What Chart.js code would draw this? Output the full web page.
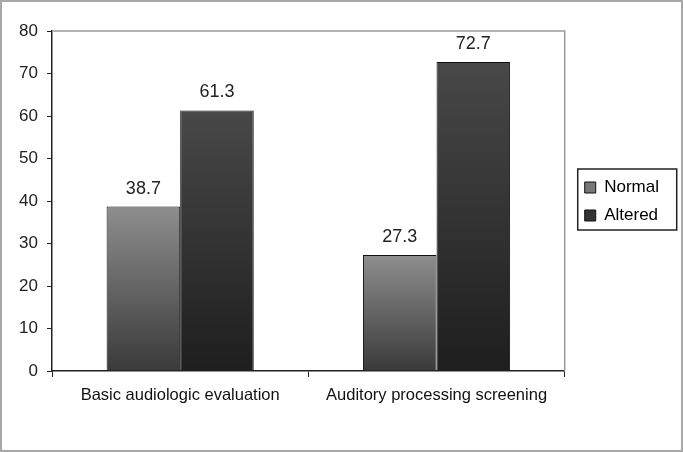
<!DOCTYPE html>
<html>
<head>
<meta charset="utf-8">
<script src="https://cdn.jsdelivr.net/npm/chart.js@4.4.1/dist/chart.umd.min.js"></script>
<style>
  html, body { margin: 0; padding: 0; background: #fff; }
  #wrap {
    position: absolute; left: 0; top: 0;
    width: 683px; height: 452px;
    box-sizing: border-box;
    border: 2px solid #a8a8a8;
  }
  #wrap canvas { display: block; }
</style>
</head>
<body>
<div id="wrap"><canvas id="chart" width="679" height="448"></canvas></div>
<script>
const categories = ['Basic audiologic evaluation', 'Auditory processing screening'];
const normalValues = [38.7, 27.3];
const alteredValues = [61.3, 72.7];
const yTicks = [0, 10, 20, 30, 40, 50, 60, 70, 80];

const FONT = '"Liberation Sans", Arial, sans-serif';

// vertical gradient per bar, from bar top down to the axis
function barGradient(topColor, bottomColor) {
    return function(ctx) {
        const chart = ctx.chart;
        if (!chart.chartArea || ctx.raw === undefined) return topColor;
        const y = chart.scales.y;
        const g = chart.ctx.createLinearGradient(0, y.getPixelForValue(ctx.raw), 0, y.getPixelForValue(0));
        g.addColorStop(0, topColor);
        g.addColorStop(1, bottomColor);
        return g;
    };
}

// gray frame on top and right of the plot area
const plotFrame = {
    id: 'plotFrame',
    beforeDatasetsDraw(chart) {
        const {ctx, chartArea: a} = chart;
        ctx.save();
        ctx.strokeStyle = '#9a9a9a';
        ctx.lineWidth = 1.5;
        ctx.beginPath();
        ctx.moveTo(a.left, a.top);
        ctx.lineTo(a.right, a.top);
        ctx.lineTo(a.right, a.bottom);
        ctx.stroke();
        ctx.restore();
    }
};

// values written above each bar
const barValues = {
    id: 'barValues',
    afterDatasetsDraw(chart) {
        const ctx = chart.ctx;
        ctx.save();
        ctx.font = '18px ' + FONT;
        ctx.fillStyle = '#222';
        ctx.textAlign = 'center';
        ctx.textBaseline = 'alphabetic';
        chart.data.datasets.forEach((ds, i) => {
            chart.getDatasetMeta(i).data.forEach((bar, j) => {
                ctx.fillText(ds.data[j].toFixed(1), bar.x, bar.y - 13);
            });
        });
        ctx.restore();
    }
};

// move the legend up/right a bit and put a box around it
const legendFrame = {
    id: 'legendFrame',
    afterLayout(chart) {
        const lg = chart.legend;
        lg.top -= 39;
        lg.bottom -= 39;
        lg.left += 9;
        lg.right += 9;
    },
    afterDraw(chart) {
        const boxes = chart.legend.legendHitBoxes;
        if (!boxes || !boxes.length) return;
        const left = Math.min(...boxes.map(b => b.left)) - 7;
        const top = Math.min(...boxes.map(b => b.top)) - 10;
        const bottom = Math.max(...boxes.map(b => b.top + b.height)) + 6;
        const ctx = chart.ctx;
        ctx.save();
        ctx.strokeStyle = '#222';
        ctx.lineWidth = 1.5;
        ctx.strokeRect(left, top, 99, bottom - top);
        ctx.restore();
    }
};

new Chart(document.getElementById('chart'), {
    type: 'bar',
    data: {
        labels: categories,
        datasets: [{
            label: 'Normal',
            data: normalValues,
            backgroundColor: barGradient('#8e8e8e', '#3a3a3a'),
            borderColor: '#111',
            borderWidth: 1
        }, {
            label: 'Altered',
            data: alteredValues,
            backgroundColor: barGradient('#484848', '#1e1e1e'),
            borderColor: '#111',
            borderWidth: 1
        }]
    },
    options: {
        responsive: false,
        animation: false,
        layout: { padding: { top: 29, right: 21, left: 0, bottom: 0 } },
        datasets: {
            bar: { categoryPercentage: 0.574, barPercentage: 1.0 }
        },
        scales: {
            x: {
                grid: {
                    display: true,
                    offset: true,
                    drawOnChartArea: false,
                    tickLength: 6,
                    color: '#222'
                },
                border: { color: '#222', width: 1.5 },
                ticks: {
                    padding: 9,
                    color: '#111',
                    font: { family: FONT, size: 16.5 },
                    maxRotation: 0
                },
                afterFit(s) { s.height = 79; }
            },
            y: {
                min: 0,
                max: 80,
                afterBuildTicks(s) { s.ticks = yTicks.map(v => ({ value: v })); },
                grid: {
                    display: true,
                    drawOnChartArea: false,
                    tickLength: 5,
                    color: '#222'
                },
                border: { color: '#222', width: 1.5 },
                ticks: {
                    padding: 9,
                    color: '#222',
                    font: { family: FONT, size: 17 }
                },
                afterFit(s) { s.width = 50; }
            }
        },
        plugins: {
            legend: {
                position: 'right',
                labels: {
                    boxWidth: 11,
                    boxHeight: 11,
                    padding: 11,
                    color: '#111',
                    font: { family: FONT, size: 17 },
                    generateLabels(chart) {
                        const fills = ['#777777', '#333333'];
                        return chart.data.datasets.map((ds, i) => ({
                            text: ds.label,
                            fillStyle: fills[i],
                            strokeStyle: '#111',
                            lineWidth: 1,
                            datasetIndex: i,
                            hidden: false
                        }));
                    }
                }
            },
            tooltip: { enabled: false }
        }
    },
    plugins: [plotFrame, barValues, legendFrame]
});
</script>
</body>
</html>
